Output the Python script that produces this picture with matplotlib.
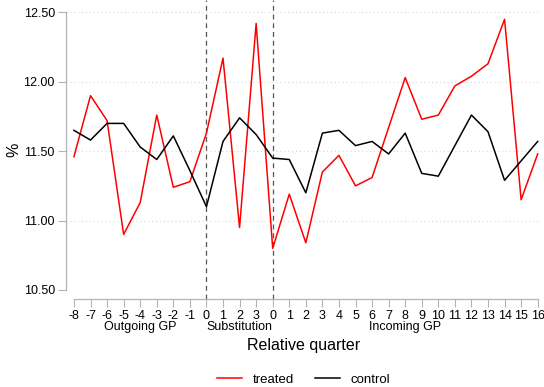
import numpy as np
import matplotlib
matplotlib.use("Agg")
from matplotlib import pyplot as plt

plt.rcParams['font.family'] = ['Liberation Sans', 'DejaVu Sans']

# quarter labels: outgoing GP (-8..0), substitution (0..3), incoming GP (0..16)
quarter_labels = [str(q) for q in range(-8, 1)] + \
    [str(q) for q in range(1, 4)] + \
    [str(q) for q in range(0, 17)]

treated = [11.46, 11.90, 11.72, 10.90, 11.13, 11.76, 11.24, 11.28, 11.63,
           12.17, 10.95, 12.42,
           10.80, 11.19, 10.84, 11.35, 11.47, 11.25, 11.31, 11.67, 12.03,
           11.73, 11.76, 11.97, 12.04, 12.13, 12.45, 11.15, 11.48]
control = [11.65, 11.58, 11.70, 11.70, 11.53, 11.44, 11.61, 11.36, 11.10,
           11.57, 11.74, 11.62,
           11.45, 11.44, 11.20, 11.63, 11.65, 11.54, 11.57, 11.48, 11.63,
           11.34, 11.32, 11.54, 11.76, 11.64, 11.29, 11.43, 11.57]

phase_names = ['Outgoing GP', 'Substitution', 'Incoming GP']
phase_bounds = [(0, 8), (8, 12), (12, 28)]

y_ticks = [10.5, 11.0, 11.5, 12.0, 12.5]

GREY = '#b4b4b4'

x = np.arange(len(quarter_labels))

fig = plt.figure(figsize=(5.44, 3.87), dpi=100)
ax = fig.add_axes([66 / 544, 88 / 387, 475 / 544, 299 / 387])

ax.set_xlim(-0.48, 28.2)
ax.set_ylim(10.435, 12.589)

for yv in y_ticks[1:]:
    ax.axhline(yv, color='#d8d8d8', lw=0.8, ls=(0, (1, 2.5)), zorder=0)

for b in (8, 12):
    ax.axvline(b, color='#555555', lw=0.9, ls=(0, (4, 3)), zorder=1)

ax.plot(x, treated, color='#ff0000', lw=1.1, label='treated', zorder=3)
ax.plot(x, control, color='#000000', lw=1.1, label='control', zorder=3)

ax.set_xticks(x)
ax.set_xticklabels(quarter_labels, fontsize=9)
ax.set_yticks(y_ticks)
ax.set_yticklabels(['%.2f' % v for v in y_ticks], fontsize=9)
ax.tick_params(axis='both', color=GREY, length=5.5, width=0.8, pad=2.5)

for side in ('top', 'right'):
    ax.spines[side].set_visible(False)
for side in ('left', 'bottom'):
    ax.spines[side].set_color(GREY)
    ax.spines[side].set_linewidth(0.9)
ax.spines['left'].set_bounds(10.5, 12.5)
ax.spines['bottom'].set_bounds(0, 28)

# phase names under the tick labels
trans = ax.get_xaxis_transform()
for name, (a, b) in zip(phase_names, phase_bounds):
    ax.text((a + b) / 2, -0.093, name, transform=trans, ha='center',
            va='center', fontsize=9)

ax.set_xlabel('Relative quarter', fontsize=11.5)
ax.xaxis.set_label_coords(0.5, -0.154)
ax.xaxis.label.set_va('center')
ax.set_ylabel('%', fontsize=11.5)
ax.yaxis.set_label_coords(-0.109, 0.5)
ax.yaxis.label.set_va('center')

ax.legend(loc='upper center', bbox_to_anchor=(0.5, -0.21), ncol=2,
          frameon=False, fontsize=9.5, handlelength=1.9, columnspacing=1.6,
          handletextpad=0.8)

fig.savefig('out.png', dpi=100)
